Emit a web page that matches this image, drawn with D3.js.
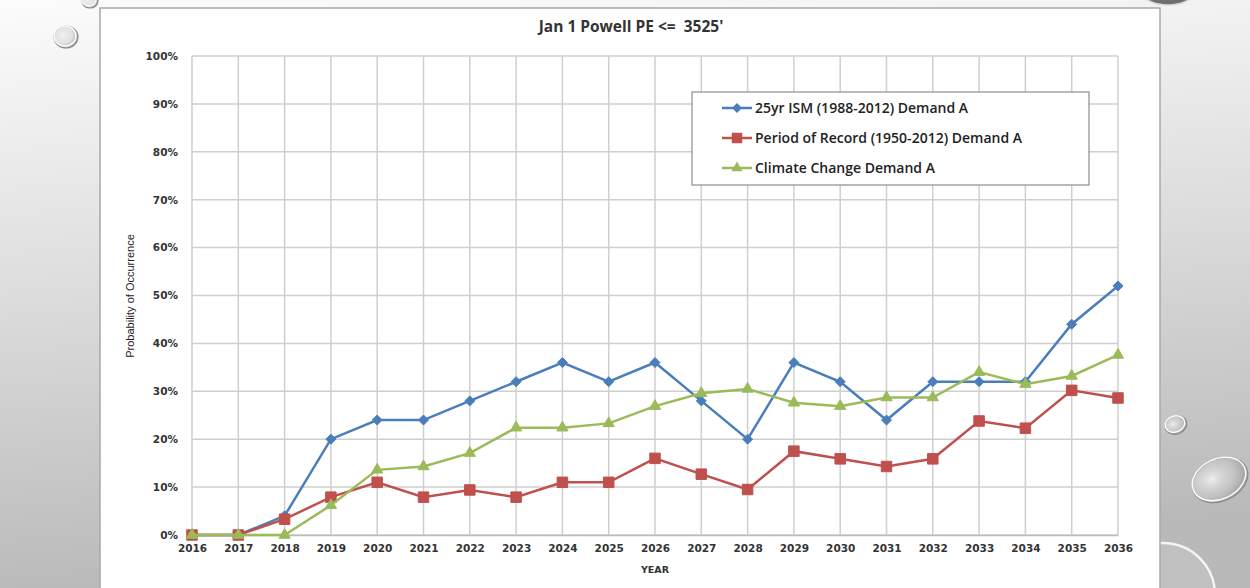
<!DOCTYPE html>
<html>
<head>
<meta charset="UTF-8">
<title>Jan 1 Powell PE</title>
<script src="https://cdnjs.cloudflare.com/ajax/libs/d3/7.8.5/d3.min.js"></script>
<style>
  body { margin: 0; padding: 0; overflow: hidden; }
  svg { display: block; }
</style>
</head>
<body>
<div id="chart"></div>
<script>
// chart data (percent)
var years = d3.range(2016, 2037);
var ismValues = [0, 0, 4, 20, 24, 24, 28, 32, 36, 32, 36, 28, 20, 36, 32, 24, 32, 32, 32, 44, 52];
var porValues = [0, 0, 3.3, 7.9, 11, 7.9, 9.4, 7.9, 11, 11, 16, 12.7, 9.5, 17.5, 15.9, 14.3, 15.9, 23.8, 22.3, 30.2, 28.6];
var ccValues = [0, 0, 0, 6.2, 13.6, 14.3, 17.1, 22.4, 22.4, 23.3, 26.9, 29.6, 30.5, 27.6, 26.9, 28.7, 28.7, 34, 31.5, 33.2, 37.6];
var yTicks = [0, 10, 20, 30, 40, 50, 60, 70, 80, 90, 100];
var seriesNames = ["25yr ISM (1988-2012) Demand A", "Period of Record (1950-2012) Demand A", "Climate Change Demand A"];

var W = 1250, H = 588;
var margin = { left: 192, right: 1118, top: 56, bottom: 535 };

var svg = d3.select("#chart").append("svg")
    .attr("width", W)
    .attr("height", H);

// slide background
var defs = svg.append("defs");
var bg = defs.append("linearGradient").attr("id", "bg")
    .attr("x1", 0).attr("y1", 0).attr("x2", 0.15).attr("y2", 1);
bg.append("stop").attr("offset", "0%").attr("stop-color", "#fcfcfc");
bg.append("stop").attr("offset", "50%").attr("stop-color", "#dcdcdc");
bg.append("stop").attr("offset", "100%").attr("stop-color", "#b9b9b9");

var bub = defs.append("radialGradient").attr("id", "bub")
    .attr("cx", "38%").attr("cy", "40%").attr("r", "60%");
bub.append("stop").attr("offset", "0%").attr("stop-color", "#f2f2f2").attr("stop-opacity", 0.9);
bub.append("stop").attr("offset", "60%").attr("stop-color", "#d0d0d0").attr("stop-opacity", 0.5);
bub.append("stop").attr("offset", "100%").attr("stop-color", "#9c9c9c").attr("stop-opacity", 0.8);

svg.append("rect").attr("width", W).attr("height", H).attr("fill", "url(#bg)");

// decorative bubbles
var bubbles = [
  { x: 66, y: 37, rx: 12, ry: 11, a: 0 },
  { x: 90, y: 1, rx: 8, ry: 7, a: 0 },
  { x: 1176, y: 425, rx: 11, ry: 9, a: -20 },
  { x: 1220, y: 480, rx: 29, ry: 21, a: -25 }
];
svg.selectAll(".bubble").data(bubbles).enter().append("ellipse")
    .attr("class", "bubble")
    .attr("transform", function(d) { return "translate(" + d.x + "," + d.y + ") rotate(" + d.a + ")"; })
    .attr("rx", function(d) { return d.rx; })
    .attr("ry", function(d) { return d.ry; })
    .attr("fill", "url(#bub)")
    .attr("stroke", "#8a8a8a")
    .attr("stroke-width", 1.2);
svg.selectAll(".rim").data(bubbles).enter().append("ellipse")
    .attr("transform", function(d) { return "translate(" + (d.x - 1) + "," + (d.y - 1) + ") rotate(" + d.a + ")"; })
    .attr("rx", function(d) { return d.rx - 1; })
    .attr("ry", function(d) { return d.ry - 1; })
    .attr("fill", "none")
    .attr("stroke", "#fafafa")
    .attr("stroke-width", 1.5);
svg.append("ellipse").attr("cx", 1168).attr("cy", -6).attr("rx", 24).attr("ry", 11)
    .attr("fill", "#6f6f6f").attr("stroke", "#d8d8d8").attr("stroke-width", 1.5);
svg.append("circle").attr("cx", 1163).attr("cy", 595).attr("r", 52)
    .attr("fill", "#cfcfcf").attr("fill-opacity", 0.35)
    .attr("stroke", "#f4f4f4").attr("stroke-width", 2.5);

// white chart panel
svg.append("rect")
    .attr("x", 100).attr("y", 8)
    .attr("width", 1060).attr("height", 600)
    .attr("fill", "#ffffff")
    .attr("stroke", "#a8a8a8")
    .attr("stroke-width", 1.5);

var x = d3.scaleLinear().domain([2016, 2036]).range([margin.left, margin.right]);
var y = d3.scaleLinear().domain([0, 100]).range([margin.bottom, margin.top]);

// gridlines
var g = svg.append("g");
g.selectAll(".hgrid").data(yTicks).enter().append("line")
    .attr("x1", margin.left).attr("x2", margin.right)
    .attr("y1", function(d) { return y(d); })
    .attr("y2", function(d) { return y(d); })
    .attr("stroke", "#cfcfcf").attr("stroke-width", 1.5);
g.selectAll(".vgrid").data(years).enter().append("line")
    .attr("x1", function(d) { return x(d); })
    .attr("x2", function(d) { return x(d); })
    .attr("y1", margin.top).attr("y2", margin.bottom)
    .attr("stroke", "#cfcfcf").attr("stroke-width", 1.5);

// axes
var yAxis = svg.append("g")
    .attr("transform", "translate(" + margin.left + ",0)")
    .call(d3.axisLeft(y).tickValues(yTicks).tickSize(0).tickPadding(14)
        .tickFormat(function(d) { return d + "%"; }));
yAxis.select(".domain").remove();

var xAxis = svg.append("g")
    .attr("transform", "translate(0," + margin.bottom + ")")
    .call(d3.axisBottom(x).tickValues(years).tickSize(0).tickPadding(10)
        .tickFormat(d3.format("d")));
xAxis.select(".domain").attr("stroke", "#bdbdbd").attr("stroke-width", 1.5);

svg.selectAll(".tick text")
    .attr("font-family", "DejaVu Sans")
    .attr("font-weight", "bold")
    .attr("font-size", "10.5px")
    .attr("fill", "#333");

// titles
svg.append("text")
    .attr("x", 631).attr("y", 32)
    .attr("text-anchor", "middle")
    .attr("xml:space", "preserve")
    .style("white-space", "pre")
    .attr("font-family", "Open Sans, DejaVu Sans")
    .attr("font-weight", "bold")
    .attr("font-size", "15.5px")
    .attr("fill", "#333")
    .text("Jan 1 Powell PE <=  3525'");

svg.append("text")
    .attr("x", 655).attr("y", 573)
    .attr("text-anchor", "middle")
    .attr("font-family", "DejaVu Sans")
    .attr("font-weight", "bold")
    .attr("font-size", "9.5px")
    .attr("fill", "#333")
    .text("YEAR");

svg.append("text")
    .attr("transform", "translate(134,296) rotate(-90)")
    .attr("text-anchor", "middle")
    .attr("font-family", "Liberation Sans Narrow, Liberation Sans")
    .attr("font-size", "11px")
    .attr("fill", "#222")
    .text("Probability of Occurrence");

// series
var series = [
  { name: seriesNames[0], values: ismValues, color: "#4a7ebb", marker: "diamond" },
  { name: seriesNames[1], values: porValues, color: "#c0504d", marker: "square" },
  { name: seriesNames[2], values: ccValues, color: "#9bbb59", marker: "triangle" }
];

var line = d3.line()
    .x(function(d) { return x(d.year); })
    .y(function(d) { return y(d.v); });

function markerPath(type) {
  if (type === "diamond") return "M0,-5L5,0L0,5L-5,0Z";
  if (type === "square") return d3.symbol().type(d3.symbolSquare).size(110)();
  return d3.symbol().type(d3.symbolTriangle).size(55)();
}

series.forEach(function(s) {
  var pts = years.map(function(yr, i) { return { year: yr, v: s.values[i] }; });
  svg.append("path")
      .datum(pts)
      .attr("d", line)
      .attr("fill", "none")
      .attr("stroke", s.color)
      .attr("stroke-width", 2.5);
  svg.selectAll(null).data(pts).enter().append("path")
      .attr("d", markerPath(s.marker))
      .attr("transform", function(d) { return "translate(" + x(d.year) + "," + y(d.v) + ")"; })
      .attr("fill", s.color)
      .attr("stroke", s.color)
      .attr("stroke-width", 1);
});

// legend
var legend = svg.append("g");
legend.append("rect")
    .attr("x", 692).attr("y", 92)
    .attr("width", 397).attr("height", 93)
    .attr("fill", "#ffffff")
    .attr("stroke", "#8c8c8c")
    .attr("stroke-width", 1.2);

series.forEach(function(s, i) {
  var ly = 108 + i * 30;
  legend.append("line")
      .attr("x1", 722).attr("x2", 752)
      .attr("y1", ly).attr("y2", ly)
      .attr("stroke", s.color).attr("stroke-width", 2.5);
  legend.append("path")
      .attr("d", markerPath(s.marker))
      .attr("transform", "translate(737," + ly + ")")
      .attr("fill", s.color);
  legend.append("text")
      .attr("x", 755).attr("y", ly + 5)
      .attr("font-family", "Open Sans, DejaVu Sans")
      .attr("font-weight", "600")
      .attr("font-size", "14px")
      .attr("fill", "#222")
      .text(s.name);
});
</script>
</body>
</html>
